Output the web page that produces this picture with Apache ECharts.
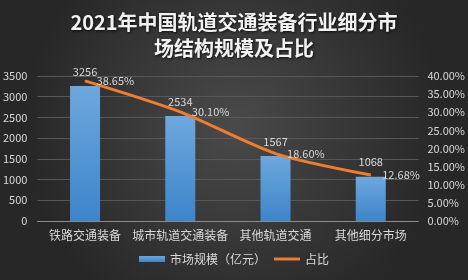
<!DOCTYPE html>
<html><head><meta charset="utf-8">
<script src="https://cdn.jsdelivr.net/npm/echarts@6/dist/echarts.min.js"></script>
<style>html,body{margin:0;padding:0;background:#333;}#c{width:468px;height:280px;}</style>
</head><body><div id="c"></div>
<script>
var titleText = '2021年中国轨道交通装备行业细分市\n场结构规模及占比';
var categories = ['铁路交通装备', '城市轨道交通装备', '其他轨道交通', '其他细分市场'];
var marketSize = [3256, 2534, 1567, 1068];
var sharePct = [38.65, 30.10, 18.60, 12.68];
var leftTicks = [0, 500, 1000, 1500, 2000, 2500, 3000, 3500];
var rightTicks = [0, 5, 10, 15, 20, 25, 30, 35, 40];
var seriesNames = ['市场规模（亿元）', '占比'];

var chart = echarts.init(document.getElementById('c'), null, {renderer: 'canvas'});
var font = '"Noto Sans CJK SC", "Noto Sans", sans-serif';
chart.setOption({
  backgroundColor: {type: 'radial', x: 0.5, y: 0.45, r: 0.75,
    colorStops: [{offset: 0, color: '#4a4a4a'}, {offset: 1, color: '#272727'}]},
  animation: false,
  textStyle: {fontFamily: font},
  title: {
    text: titleText, left: 'center', top: 4,
    textStyle: {color: '#f2f2f2', fontSize: 20, fontWeight: 'bold', lineHeight: 26, fontFamily: font,
      textShadowColor: 'rgba(0,0,0,0.8)', textShadowBlur: 3, textShadowOffsetX: 1, textShadowOffsetY: 1}
  },
  legend: {
    bottom: 10, left: 'center', itemWidth: 26, itemHeight: 6, itemGap: 8,
    textStyle: {color: '#d9d9d9', fontSize: 12, fontFamily: font},
    data: [{name: seriesNames[0], icon: 'rect'},
           {name: seriesNames[1], icon: 'path://M0,0 L30,0 L30,3.4 L0,3.4 Z'}]
  },
  grid: {left: 37, right: 48, top: 76, bottom: 59, containLabel: false},
  xAxis: {
    type: 'category', data: categories,
    axisLine: {lineStyle: {color: '#8c8c8c'}},
    axisTick: {show: false},
    axisLabel: {color: '#d9d9d9', fontSize: 12, margin: 8, interval: 0}
  },
  yAxis: [{
    type: 'value', min: leftTicks[0], max: leftTicks[leftTicks.length - 1], interval: 500,
    axisLine: {show: false}, axisTick: {show: false},
    axisLabel: {color: '#d9d9d9', fontSize: 11, margin: 10, formatter: function (v) { return String(v); }},
    splitLine: {lineStyle: {color: '#575757'}}
  }, {
    type: 'value', min: rightTicks[0], max: rightTicks[rightTicks.length - 1], interval: 5,
    axisLine: {show: false}, axisTick: {show: false},
    axisLabel: {color: '#d9d9d9', fontSize: 11, margin: 9, formatter: function (v) { return v.toFixed(2) + '%'; }},
    splitLine: {show: false}
  }],
  series: [{
    name: seriesNames[0], type: 'bar', data: marketSize, barWidth: 30,
    itemStyle: {color: {type: 'linear', x: 0, y: 0, x2: 0, y2: 1,
      colorStops: [{offset: 0, color: '#6ea7dd'}, {offset: 1, color: '#3d85ca'}]}},
    label: {show: true, position: 'top', distance: 9, color: '#d9d9d9', fontSize: 11}
  }, {
    name: seriesNames[1], type: 'line', yAxisIndex: 1, data: sharePct, smooth: 0.25,
    symbol: 'circle', symbolSize: 1, showSymbol: true,
    lineStyle: {color: '#ed7d31', width: 3}, itemStyle: {color: '#ed7d31'},
    label: {show: true, position: 'right', distance: 11, color: '#d9d9d9', fontSize: 11,
      formatter: function (p) { return p.value.toFixed(2) + '%'; }}
  }]
});
</script></body></html>
